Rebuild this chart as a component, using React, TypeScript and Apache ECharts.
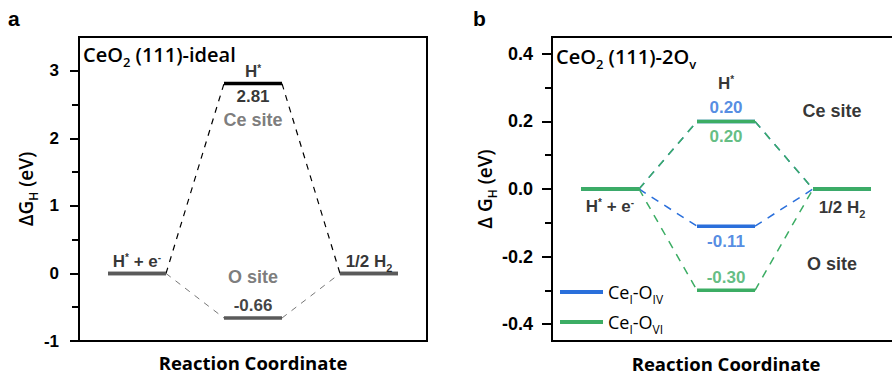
import React, { useEffect, useRef } from 'react';
import * as echarts from 'echarts';

// ---- data ----
const stepNames = ['H* + e-', 'H*', '1/2 H2'];
const idealCeSite = [0, 2.81, 0];
const idealOSite = [0, -0.66, 0];
const vacIVCeSite = [0, 0.2, 0];
const vacIVOSite = [0, -0.11, 0];
const vacVICeSite = [0, 0.2, 0];
const vacVIOSite = [0, -0.3, 0];
const ticksA = [-1, 0, 1, 2, 3];
const minorTicksA = [-0.5, 0.5, 1.5, 2.5];
const ticksB = [-0.4, -0.2, 0, 0.2, 0.4];
const minorTicksB = [-0.3, -0.1, 0.1, 0.3];

const GRAY = '#5a5a5a';
const GREEN = '#3cad64';
const BLUE = '#2a6fdb';
const ARIAL = 'Liberation Sans, Arial, sans-serif';
const HUMAN = 'Open Sans, sans-serif';

const stepStart = (i: number) => 2 * i + 0.5;
const stepEnd = (i: number) => 2 * i + 1.5;
const stepMid = (i: number) => 2 * i + 1;

function levelSeries(vals: number[], g: number, colors: string[], name: string, z: number) {
  return vals.map((v, i) => ({
    type: 'line',
    name,
    xAxisIndex: g,
    yAxisIndex: 2 * g,
    data: [[stepStart(i), v], [stepEnd(i), v]],
    symbol: 'none',
    silent: true,
    z,
    itemStyle: { color: colors[i] },
    lineStyle: { color: colors[i], width: 3.5, cap: 'butt' },
  }));
}

function connectorSeries(vals: number[], g: number, color: string, width: number, dash: number[], name: string, z: number) {
  const out: any[] = [];
  for (let i = 0; i < vals.length - 1; i++) {
    out.push({
      type: 'line',
      name,
      xAxisIndex: g,
      yAxisIndex: 2 * g,
      data: [[stepEnd(i), vals[i]], [stepStart(i + 1), vals[i + 1]]],
      symbol: 'none',
      silent: true,
      z,
      itemStyle: { color },
      lineStyle: { color, width, type: dash },
    });
  }
  return out;
}

const rich = (fs: number, color: string, family: string, weight: any = 'bold') => ({
  t: { fontSize: fs, color, fontFamily: family, fontWeight: weight },
  sup: { fontSize: Math.round(fs * 0.6), color, fontFamily: family, fontWeight: weight, verticalAlign: 'top', lineHeight: fs },
  sub: { fontSize: Math.round(fs * 0.65), color, fontFamily: family, fontWeight: weight, verticalAlign: 'bottom', lineHeight: fs, padding: [0, 0, -4, 0] },
});

function ann(x: number, y: number, text: string, color: string, offset: number[], fs = 16) {
  return {
    value: [x, y],
    label: {
      show: true,
      position: 'inside',
      offset,
      formatter: text,
      rich: rich(fs, color, ARIAL),
    },
  };
}

function annSeries(g: number, data: any[]) {
  return {
    type: 'scatter',
    xAxisIndex: g,
    yAxisIndex: 2 * g,
    symbolSize: 1,
    silent: true,
    z: 10,
    itemStyle: { color: 'rgba(0,0,0,0)' },
    data,
  };
}

const fmtA = (v: number) => String(v);
const fmtB = (v: number) => v.toFixed(1);

function yAxes(g: number, min: number, max: number, ticks: number[], minor: number[], fmt: (v: number) => string, fs: number, margin: number, name: string, nameGap: number, len: number) {
  return [
    {
      type: 'value',
      gridIndex: g,
      position: 'left',
      min,
      max,
      axisLine: { show: true, lineStyle: { color: '#000', width: 2 } },
      axisTick: { show: true, customValues: ticks, length: len, lineStyle: { color: '#000', width: 2 } },
      axisLabel: {
        customValues: ticks,
        formatter: fmt,
        fontSize: fs,
        fontWeight: 'bold',
        fontFamily: ARIAL,
        color: '#000',
        margin,
      },
      splitLine: { show: false },
      name,
      nameLocation: 'middle',
      nameGap,
      nameTextStyle: {
        rich: {
          t: { fontSize: 19, fontFamily: HUMAN, fontWeight: 600, color: '#000' },
          sub: { fontSize: 12, fontFamily: HUMAN, fontWeight: 600, color: '#000', verticalAlign: 'bottom', lineHeight: 19, padding: [0, 0, -4, 0] },
        },
      },
    },
    {
      type: 'value',
      gridIndex: g,
      position: 'left',
      min,
      max,
      axisLine: { show: false },
      axisTick: { show: true, customValues: minor, length: 7, lineStyle: { color: '#000', width: 2 } },
      axisLabel: { show: false },
      splitLine: { show: false },
    },
  ];
}

function xAxis(g: number, nameGap: number) {
  return {
    type: 'value',
    gridIndex: g,
    min: 0,
    max: stepNames.length * 2,
    axisLine: { show: false },
    axisTick: { show: false },
    axisLabel: { show: false },
    splitLine: { show: false },
    name: 'Reaction Coordinate',
    nameLocation: 'middle',
    nameGap,
    nameTextStyle: { fontSize: 18.5, fontWeight: 'bold', fontFamily: HUMAN, color: '#000', lineHeight: 18 },
  };
}

const titleRich = {
  t: { fontSize: 20, fontFamily: HUMAN, fontWeight: 600, color: '#000' },
  sub: { fontSize: 13, fontFamily: HUMAN, fontWeight: 600, color: '#000', verticalAlign: 'bottom', lineHeight: 20, padding: [0, 0, -4, 0] },
};

export default function App() {
  const ref = useRef<HTMLDivElement>(null);
  useEffect(() => {
    if (!ref.current) return;
    const chart = echarts.init(ref.current, undefined, { renderer: 'svg' });
    const H = '{t|H}{sup|*}';
    const He = '{t|H}{sup|*}{t| + e}{sup|-}';
    const H2 = '{t|1/2 H}{sub|2}';

    const annA = [
      ann(stepMid(0), idealCeSite[0], He, '#000', [0, -12], 17),
      ann(stepMid(2), idealCeSite[2], H2, '#000', [0, -12], 17),
      ann(stepMid(1), idealCeSite[1], H, '#000', [0, -12], 17),
      ann(stepMid(1), idealCeSite[1], `{t|${idealCeSite[1].toFixed(2)}}`, '#000', [0, 13], 17),
      ann(stepMid(1), idealCeSite[1], '{t|Ce site}', GRAY, [0, 36], 18),
      ann(stepMid(1), idealOSite[1], '{t|O site}', GRAY, [0, -41], 18),
      ann(stepMid(1), idealOSite[1], `{t|${idealOSite[1].toFixed(2)}}`, '#111', [0, -13], 17),
    ];
    const annB = [
      ann(stepMid(0), vacVICeSite[0], He, '#000', [0, 17], 17),
      ann(stepMid(2), vacVICeSite[2], H2, '#000', [0, 18], 17),
      ann(stepMid(1), vacVICeSite[1], H, '#000', [0, -38], 17),
      ann(stepMid(1), vacIVCeSite[1], `{t|${vacIVCeSite[1].toFixed(2)}}`, BLUE, [0, -14], 17),
      ann(stepMid(1), vacVICeSite[1], `{t|${vacVICeSite[1].toFixed(2)}}`, GREEN, [0, 15], 17),
      ann(stepMid(1), vacIVOSite[1], `{t|${vacIVOSite[1].toFixed(2)}}`, BLUE, [0, 15], 17),
      ann(stepMid(1), vacVIOSite[1], `{t|${vacVIOSite[1].toFixed(2)}}`, GREEN, [0, -13], 17),
      ann(stepMid(2), vacVICeSite[2], '{t|Ce site}', '#000', [-10, -78], 18),
      ann(stepMid(2), vacVIOSite[2], '{t|O site}', '#000', [-10, 75], 18),
    ];

    const option: any = {
      animation: false,
      grid: [
        { left: 79, top: 37, width: 348, height: 304, show: true, borderColor: '#000', borderWidth: 2, backgroundColor: 'transparent', outerBoundsMode: 'none', containLabel: false },
        { left: 552, top: 37, width: 348, height: 304, show: true, borderColor: '#000', borderWidth: 2, backgroundColor: 'transparent', outerBoundsMode: 'none', containLabel: false },
      ],
      xAxis: [xAxis(0, 12), xAxis(1, 13)],
      yAxis: [
        ...yAxes(0, -1, 3.5, ticksA, minorTicksA, fmtA, 17, 20, '{t|ΔG}{sub|H}{t| (eV)}', 43, 9),
        ...yAxes(1, -0.45, 0.45, ticksB, minorTicksB, fmtB, 18, 19, '{t|Δ G}{sub|H}{t| (eV)}', 48, 10),
      ],
      legend: {
        left: 555,
        top: 278,
        orient: 'vertical',
        itemWidth: 43,
        itemHeight: 4,
        itemGap: 8,
        icon: 'rect',
        data: ['CeI-OIV', 'CeI-OVI'],
        formatter: (n: string) => (n === 'CeI-OIV' ? '{t|Ce}{sub|I}{t|-O}{sub|IV}' : '{t|Ce}{sub|I}{t|-O}{sub|VI}'),
        textStyle: {
          rich: {
            t: { fontSize: 18, fontFamily: HUMAN, color: '#000' },
            sub: { fontSize: 12, fontFamily: HUMAN, color: '#000', verticalAlign: 'bottom', lineHeight: 18, padding: [0, 0, -4, 0] },
          },
        },
      },
      graphic: [
        { type: 'text', left: 8, top: 8, style: { text: 'a', fontSize: 21, fontWeight: 'bold', fontFamily: ARIAL, fill: '#000' } },
        { type: 'text', left: 473, top: 8, style: { text: 'b', fontSize: 21, fontWeight: 'bold', fontFamily: ARIAL, fill: '#000' } },
        { type: 'text', left: 83, top: 44, style: { text: '{t|CeO}{sub|2}{t| (111)-ideal}', rich: titleRich } },
        { type: 'text', left: 556, top: 46, style: { text: '{t|CeO}{sub|2}{t| (111)-2O}{sub|v}', rich: titleRich } },
      ],
      series: [
        // panel a
        ...connectorSeries(idealOSite, 0, '#777', 1, [6, 6], 'O site', 2),
        ...connectorSeries(idealCeSite, 0, '#000', 1.2, [6, 6], 'Ce site', 2),
        ...levelSeries(idealOSite, 0, [GRAY, GRAY, GRAY], 'O site', 5),
        ...levelSeries(idealCeSite, 0, [GRAY, '#000', GRAY], 'Ce site', 5),
        annSeries(0, annA),
        // panel b
        ...connectorSeries(vacIVCeSite, 1, BLUE, 1.5, [8, 7], 'CeI-OIV', 2),
        ...connectorSeries(vacIVOSite, 1, BLUE, 1.5, [8, 7], 'CeI-OIV', 2),
        ...connectorSeries(vacVICeSite, 1, GREEN, 1.5, [8, 7], 'CeI-OVI', 3),
        ...connectorSeries(vacVIOSite, 1, GREEN, 1.5, [8, 7], 'CeI-OVI', 3),
        ...levelSeries(vacIVCeSite, 1, [BLUE, BLUE, BLUE], 'CeI-OIV', 5),
        ...levelSeries(vacIVOSite, 1, [BLUE, BLUE, BLUE], 'CeI-OIV', 5),
        ...levelSeries(vacVICeSite, 1, [GREEN, GREEN, GREEN], 'CeI-OVI', 6),
        ...levelSeries(vacVIOSite, 1, [GREEN, GREEN, GREEN], 'CeI-OVI', 6),
        annSeries(1, annB),
      ],
    };
    chart.setOption(option);
    return () => chart.dispose();
  }, []);
  return <div ref={ref} style={{ position: 'absolute', left: 0, top: 0, width: 892, height: 374 }} />;
}
